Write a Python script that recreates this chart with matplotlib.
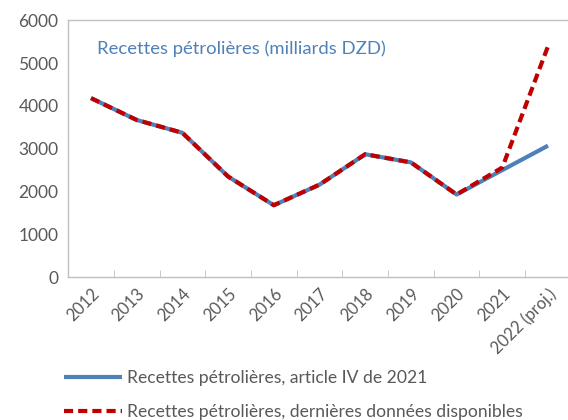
import matplotlib

matplotlib.use("Agg")
import matplotlib.pyplot as plt
import numpy as np

years = ["2012", "2013", "2014", "2015", "2016", "2017", "2018", "2019",
         "2020", "2021", "2022 (proj.)"]
art4_2021 = [4180, 3670, 3370, 2350, 1680, 2160, 2870, 2680, 1930, 2500, 3070]
latest = [4180, 3670, 3370, 2350, 1680, 2160, 2870, 2680, 1930, 2560, 5390]

plt.rcParams["font.family"] = ["Lato", "DejaVu Sans"]
GRAY = "#595959"
BLUE = "#4f81b8"
RED = "#c00000"

fig = plt.figure(figsize=(5.68, 4.2), dpi=100)
ax = fig.add_axes([0.12, 0.34, 0.885, 0.612])

x = np.arange(len(years))
ax.plot(x, art4_2021, color=BLUE, lw=3, solid_capstyle="butt",
        label="Recettes pétrolières, article IV de 2021")
ax.plot(x, latest, color=RED, lw=3, ls=(0, (2.2, 1.2)),
        label="Recettes pétrolières, dernières données disponibles")

ax.set_xlim(-0.5, len(years) - 0.5)
ax.set_ylim(0, 6000)
ax.set_yticks(range(0, 6001, 1000))
ax.set_xticks(x)
ax.set_xticklabels(years, rotation=45, ha="right", rotation_mode="anchor")
ax.set_xticks(np.arange(0.5, len(years) - 1, 1), minor=True)
ax.tick_params(axis="x", which="major", length=0, pad=6, labelsize=12, colors=GRAY)
ax.tick_params(axis="x", which="minor", length=5, color="#bfbfbf", direction="in")
ax.tick_params(axis="y", length=0, pad=7, labelsize=12.5, colors=GRAY)
for s in ax.spines.values():
    s.set_color("#bfbfbf")
    s.set_linewidth(1)

ax.text(0.058, 0.89, "Recettes pétrolières (milliards DZD)", transform=ax.transAxes,
        color=BLUE, fontsize=13.3, va="center")

fig.legend(loc="upper left", bbox_to_anchor=(0.1, 0.135), frameon=False,
           fontsize=12.6, handlelength=3.3, handletextpad=0.3, labelspacing=1.0,
           labelcolor=GRAY, borderaxespad=0)

fig.savefig("out.png", dpi=100)
